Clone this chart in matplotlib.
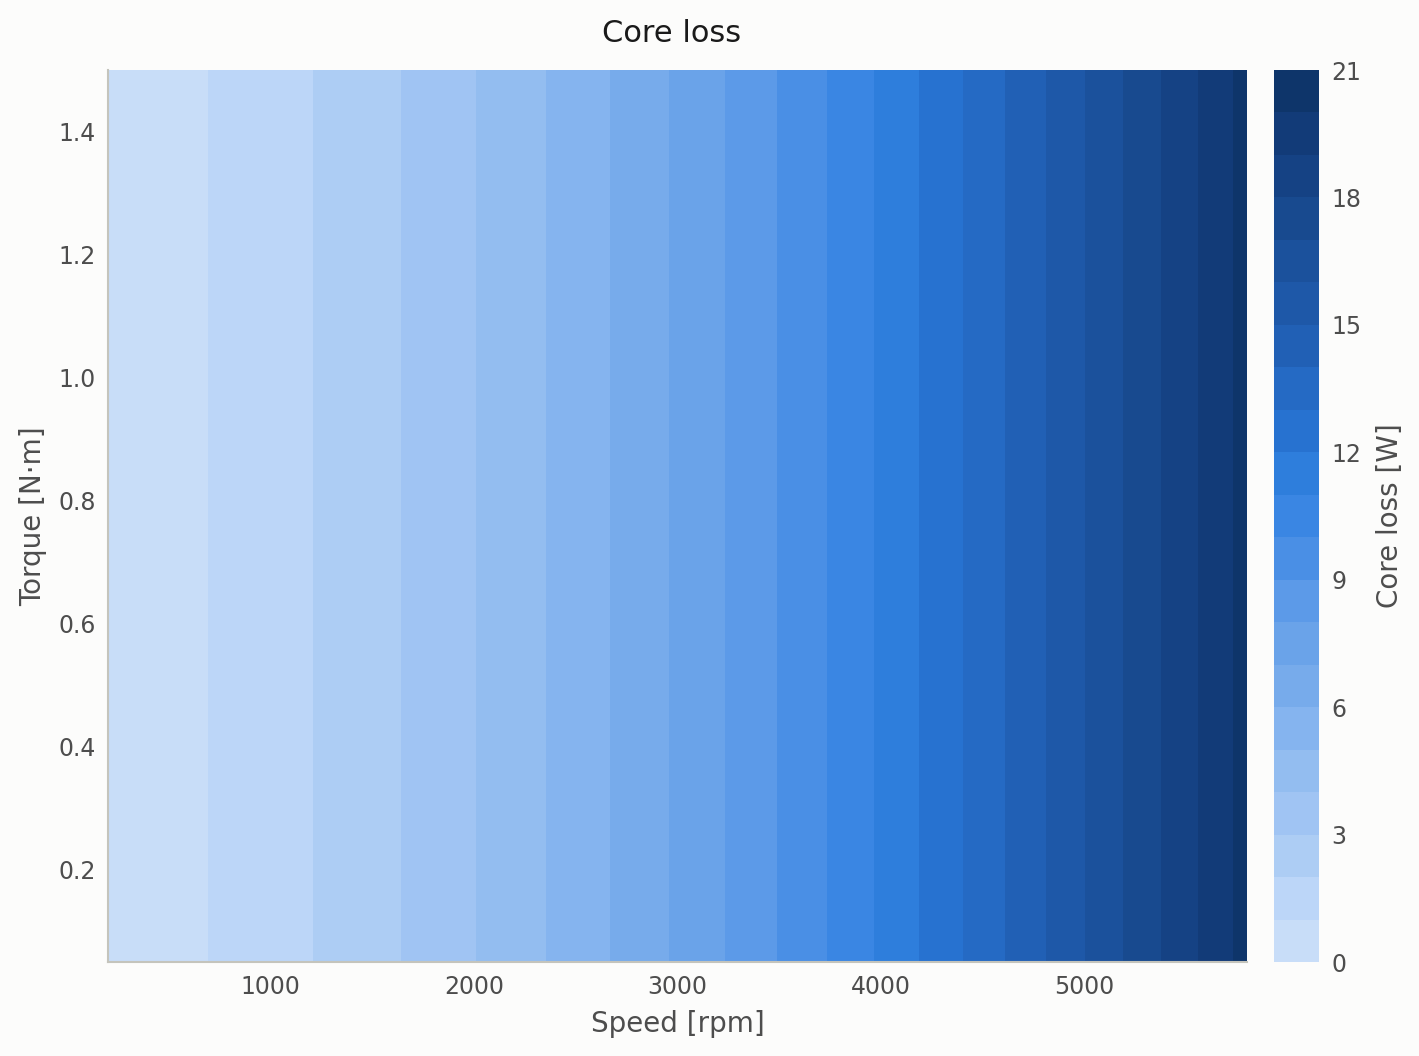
import numpy as np
import matplotlib
matplotlib.use("Agg")
import matplotlib.pyplot as plt
from matplotlib.colors import ListedColormap

# Speed samples [rpm] and core loss [W] (loss depends on speed only)
speed = [200, 690, 1207, 1640, 2010, 2355, 2670, 2960, 3232, 3488, 3734,
         3966, 4187, 4404, 4611, 4813, 5005, 5192, 5379, 5557, 5729, 5800]
core_loss = [0.25, 1, 2, 3, 4, 5, 6, 7, 8, 9, 10,
             11, 12, 13, 14, 15, 16, 17, 18, 19, 20, 20.4]
torque = [0.05, 1.5]
levels = list(range(0, 22))
cbar_ticks = [0, 3, 6, 9, 12, 15, 18, 21]

bg = "#fcfcfb"
txt = "#4d4d4d"

band_colors = ["#c8ddf8", "#bcd6f8", "#adcdf4", "#a0c4f3", "#93bdf0", "#85b4ef",
               "#77abeb", "#6aa3e9", "#5c9ae8", "#4a8fe5", "#3a86e3", "#2e7edc",
               "#2772d0", "#256ac4", "#2160b5", "#1e58a8", "#1b519c", "#184a8f",
               "#154284", "#123b78", "#0e356a"]
cmap = ListedColormap(band_colors)

fig = plt.figure(figsize=(14.19, 10.56), dpi=100, facecolor=bg)
ax = fig.add_axes([108/1419, 1-962/1056, (1247-108)/1419, (962-70)/1056])
cax = fig.add_axes([1274/1419, 1-962/1056, (1319-1274)/1419, (962-70)/1056])
ax.set_facecolor(bg)

S, T = np.meshgrid(np.array(speed, float), np.array(torque, float))
Z = np.tile(np.array(core_loss, float), (len(torque), 1))
cs = ax.contourf(S, T, Z, levels=levels, cmap=cmap, vmin=0, vmax=21)

ax.set_xlim(200, 5800)
ax.set_ylim(0.05, 1.5)
ax.set_xticks([1000, 2000, 3000, 4000, 5000])
ax.set_yticks([0.2, 0.4, 0.6, 0.8, 1.0, 1.2, 1.4])
ax.tick_params(length=0, labelsize=17, labelcolor=txt, pad=9)
for s in ["top", "right"]:
    ax.spines[s].set_visible(False)
for s in ["left", "bottom"]:
    ax.spines[s].set_color("#c4c4bc")
    ax.spines[s].set_linewidth(1.5)
ax.set_xlabel("Speed [rpm]", fontsize=20, color=txt, labelpad=8)
ax.set_ylabel("Torque [N·m]", fontsize=20, color=txt, labelpad=8)
fig.text(672/1419, 1-33/1056, "Core loss", fontsize=22, color="#1a1a1a",
         ha="center", va="center")

cb = fig.colorbar(cs, cax=cax, ticks=cbar_ticks)
cb.outline.set_visible(False)
cax.tick_params(length=0, labelsize=17, labelcolor=txt, pad=9)
cb.set_label("Core loss [W]", fontsize=20, color=txt, labelpad=10)

fig.savefig("out.png", dpi=100, facecolor=bg)
